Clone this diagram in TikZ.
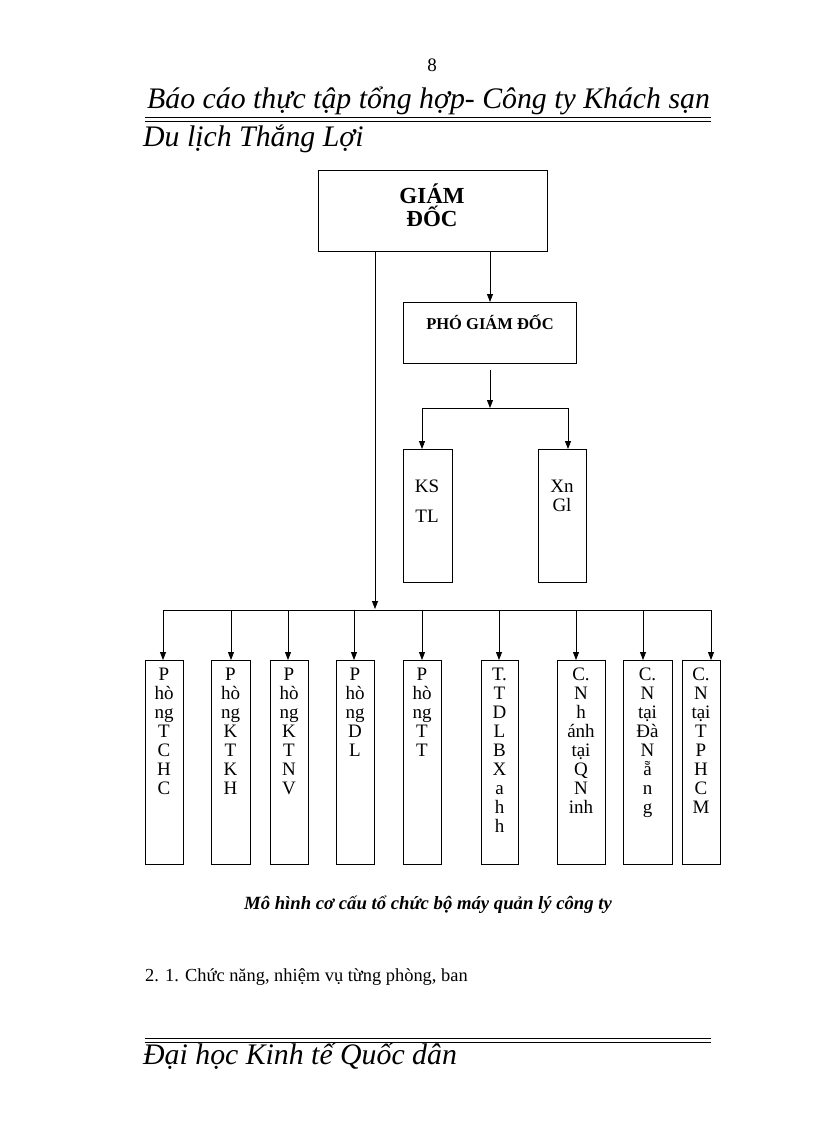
\documentclass[tikz,border=0pt]{standalone}
\usepackage{fontspec}
\setmainfont{Liberation Serif}
\usetikzlibrary{arrows.meta}
\begin{document}
\begin{tikzpicture}[x=1pt,y=-1pt,
  bx/.style={draw,thick,inner sep=0pt,anchor=north west},
  arr/.style={-{Triangle[length=8pt,width=6pt]},thick},
  ln/.style={thick},
  col/.style={anchor=north,align=center,font=\fontsize{19}{19}\selectfont,inner sep=0pt}]
\useasboundingbox (0,0) rectangle (816,1123);
\node (pg) at (432,65) {\fontsize{19}{20}\selectfont 8};
\node[anchor=west,inner sep=0pt] (h1) at (147,101) {\fontsize{29.8}{30}\selectfont\itshape Báo cáo thực tập tổng hợp- Công ty Khách sạn};
\draw[thick] (145,117)--(711,117);
\draw[thick] (145,121)--(711,121);
\node[anchor=west,inner sep=0pt] (h2) at (143,139) {\fontsize{29.8}{30}\selectfont\itshape Du lịch Thắng Lợi};
% GD
\node[bx,minimum width=229pt,minimum height=81pt] (gd) at (318,170) {};
\node[align=center,font=\bfseries\fontsize{23}{23}\selectfont] (gdt) at (432,205) {GIÁM\\ĐỐC};
\node[bx,minimum width=173pt,minimum height=61pt] (pgd) at (403,302) {};
\node[font=\bfseries\fontsize{16.5}{18}\selectfont] (pgdt) at (490,322) {PHÓ GIÁM ĐỐC};
\draw[arr] (490,251)--(490,302);
\coordinate (c1) at (490,370);
\coordinate (c2) at (490,408);
\draw[arr] (c1)--(c2);
\draw[ln] (422,408)--(568,408);
\node[bx,minimum width=49pt,minimum height=133pt] (ks) at (403,449) {};
\node[bx,minimum width=48pt,minimum height=133pt] (xn) at (538,449) {};
\node[col,font=\fontsize{19}{30}\selectfont] (kst) at (427,480) {KS\\TL};
\node[col] (xnt) at (562,480) {Xn\\Gl};
\draw[arr] (422,408)--(422,449);
\draw[arr] (568,408)--(568,449);
% main line
\draw[arr] (375,251)--(375,609);
\draw[ln] (163,610)--(711,610);
\foreach \a/\b/\t [count=\i] in {145/183/{P\\hò\\ng\\T\\C\\H\\C},211/250/{P\\hò\\ng\\K\\T\\K\\H},270/308/{P\\hò\\ng\\K\\T\\N\\V},336/374/{P\\hò\\ng\\D\\L},403/441/{P\\hò\\ng\\T\\T},481/518/{T.\\T\\D\\L\\B\\X\\a\\h\\h},557/605/{C.\\N\\h\\ánh\\tại\\Q\\N\\inh},623/672/{C.\\N\\tại\\Đà\\N\\ẵ\\n\\g},682/720/{C.\\N\\tại\\T\\P\\H\\C\\M}}{
  \pgfmathsetmacro\w{\b-\a}
  \node[bx,minimum width=\w pt,minimum height=204pt] (d\i) at (\a,660) {};
  \node[col] (t\i) at ({(\a+\b)/2},668) {\t};
}
\foreach \x [count=\i] in {163,231,288,354,422,499,576,643,711}{
  \draw[arr] (\x,610)--(d\i.north -| \x,660);
}
\node[font=\bfseries\itshape\fontsize{18.7}{20}\selectfont] (cap) at (428,905) {Mô hình cơ cấu tổ chức bộ máy quản lý công ty};
\node[anchor=west,inner sep=0pt,font=\fontsize{18.4}{20}\selectfont] (s) at (145,977) {2. 1. Chức năng, nhiệm vụ từng phòng, ban};
\draw[thick] (145,1038)--(711,1038);
\draw[thick] (145,1042)--(711,1042);
\node[anchor=west,inner sep=0pt] (f) at (143,1056) {\fontsize{29.8}{30}\selectfont\itshape Đại học Kinh tế Quốc dân};
\end{tikzpicture}
\end{document}
